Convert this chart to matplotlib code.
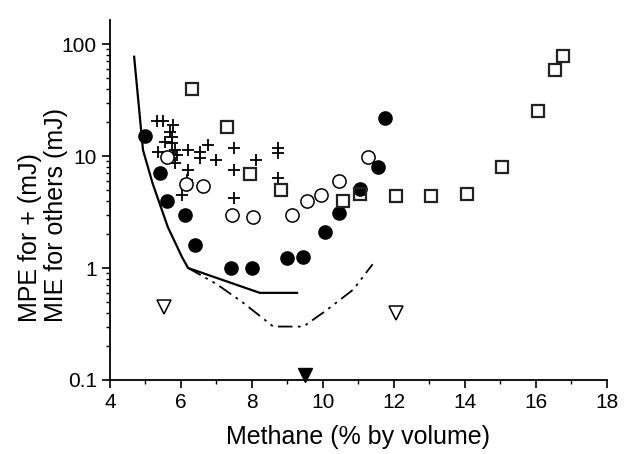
"""
Minimum ignition energy of methane vs. concentration (recreated chart).
"""

import numpy as np
import matplotlib
matplotlib.use("Agg")
import matplotlib.pyplot as plt
from matplotlib.ticker import LogLocator, NullFormatter, FixedLocator

plt.rcParams.update({
    "font.family": ["Liberation Sans", "DejaVu Sans"],
    "font.size": 15,
    "figure.dpi": 100,
})

# MPE data (+)
plus_x = [5.32, 5.49, 5.77, 5.69, 5.75, 5.55, 5.75, 5.35, 5.83, 5.77, 5.89, 6.2, 5.83,
          6.54, 6.54, 6.76, 7.0, 7.49, 7.49, 6.2, 8.11, 8.73, 8.73, 8.73, 7.49, 6.03, 6.17]
plus_y = [20.5, 20.5, 18.9, 16.4, 14.8, 13.3, 13.1, 10.8, 11.3, 10.2, 10.2, 11.3, 8.7,
          10.8, 9.6, 12.5, 9.3, 11.8, 7.5, 7.5, 9.2, 11.8, 10.6, 6.4, 4.2, 4.5, 6.1]

# MIE data sets
filled_x = [5.0, 5.4, 5.6, 6.1, 6.4, 7.4, 8.0, 9.0, 9.45, 10.05, 10.45, 11.05, 11.55, 11.75]
filled_y = [15, 7.0, 4.0, 3.0, 1.6, 1.0, 1.0, 1.22, 1.25, 2.1, 3.1, 5.1, 8.0, 22]

open_x = [5.6, 6.14, 6.63, 7.44, 8.04, 9.13, 9.54, 9.94, 10.45, 11.27]
open_y = [9.8, 5.6, 5.4, 3.0, 2.85, 3.0, 3.96, 4.5, 6.0, 9.8]

square_x = [6.3, 7.3, 7.94, 8.82, 10.56, 11.05, 12.05, 13.05, 14.05, 15.05, 16.05, 16.55, 16.75]
square_y = [40, 18, 6.9, 5.0, 4.0, 4.6, 4.4, 4.4, 4.6, 8.0, 25, 59, 78]

tri_open_x = [5.52, 12.05]
tri_open_y = [0.45, 0.40]

tri_filled_x = [9.5]
tri_filled_y = [0.11]

# Curves
solid_x = [4.68, 4.93, 5.2, 5.63, 6.03, 6.2, 8.22, 9.27]
solid_y = [77, 11.3, 5.7, 2.32, 1.25, 1.0, 0.6, 0.6]

dashdot_x = [6.2, 7.0, 7.75, 8.6, 9.45, 10.1, 10.85, 11.4]
dashdot_y = [1.0, 0.72, 0.49, 0.30, 0.30, 0.42, 0.64, 1.08]

fig = plt.figure(figsize=(6.25, 4.54))
ax = fig.add_axes([0.176, 0.163, 0.795, 0.793])

ax.plot(solid_x, solid_y, color="black", linewidth=1.6)
ax.plot(dashdot_x, dashdot_y, color="black", linewidth=1.3,
        linestyle=(0, (8, 3, 1.5, 3, 1.5, 3)))

ax.plot(plus_x, plus_y, linestyle="none", marker="+", markersize=9,
        markeredgewidth=1.3, color="black")
ax.plot(filled_x, filled_y, linestyle="none", marker="o", markersize=9.5,
        color="black")
ax.plot(open_x, open_y, linestyle="none", marker="o", markersize=9.5,
        markerfacecolor="white", markeredgecolor="black", markeredgewidth=1.1)
ax.plot(square_x, square_y, linestyle="none", marker="s", markersize=8.5,
        markerfacecolor="none", markeredgecolor="#222222", markeredgewidth=1.6)
ax.plot(tri_open_x, tri_open_y, linestyle="none", marker="v", markersize=10,
        markerfacecolor="none", markeredgecolor="black", markeredgewidth=1.1)
ax.plot(tri_filled_x, tri_filled_y, linestyle="none", marker="v", markersize=10,
        color="black", clip_on=False, zorder=5)

ax.set_yscale("log")
ax.set_xlim(4, 18)
ax.set_ylim(0.1, 164)

ax.xaxis.set_major_locator(FixedLocator(np.arange(4, 19, 2)))
ax.xaxis.set_minor_locator(FixedLocator(np.arange(5, 18, 2)))
ax.set_yticks([0.1, 1, 10, 100])
ax.set_yticklabels(["0.1", "1", "10", "100"])
ax.yaxis.set_minor_locator(LogLocator(base=10, subs=np.arange(2, 10)))
ax.yaxis.set_minor_formatter(NullFormatter())

ax.tick_params(which="major", direction="out", length=6, width=1.2, labelsize=15)
ax.tick_params(which="minor", direction="out", length=3, width=1.0)

ax.spines["top"].set_visible(False)
ax.spines["right"].set_visible(False)
ax.spines["left"].set_linewidth(1.3)
ax.spines["bottom"].set_linewidth(1.3)

ax.set_xlabel("Methane (% by volume)", fontsize=18, labelpad=9)
fig.text(0.069, 0.526, "MPE for + (mJ)\nMIE for others (mJ)", rotation=90,
         ha="center", va="center", multialignment="left", fontsize=18,
         linespacing=1.1)

fig.savefig("out.png", dpi=100)
plt.close()
